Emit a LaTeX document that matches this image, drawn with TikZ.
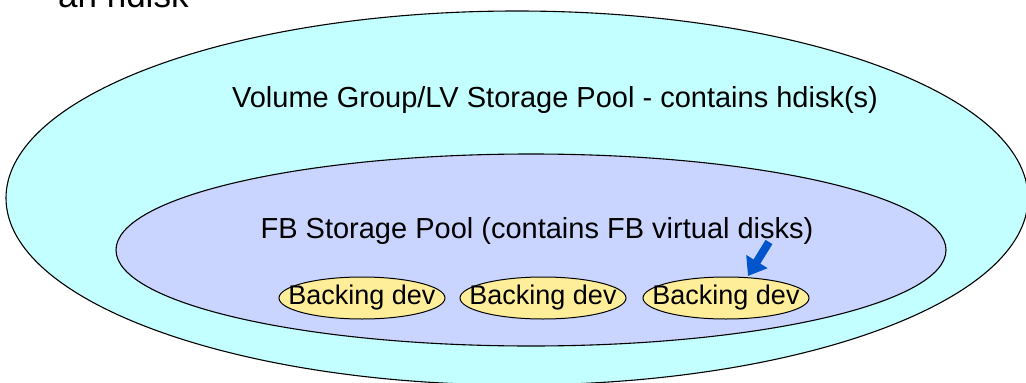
\documentclass[tikz,border=0pt]{standalone}
\usepackage{fontspec}
\setmainfont{Liberation Sans}
\usetikzlibrary{shapes.geometric,arrows.meta}
\definecolor{poolcyan}{HTML}{C4FFFF}
\definecolor{poollav}{HTML}{CAD5FF}
\definecolor{devyellow}{HTML}{FFEE99}
\definecolor{arrblue}{HTML}{0055CC}
\begin{document}
\begin{tikzpicture}[x=1pt,y=-1pt,
  pool/.style={ellipse,draw=black,line width=1.1pt,inner sep=0pt},
  devbox/.style={ellipse,draw=black,line width=1pt,fill=devyellow,inner sep=0pt,
     minimum width=166pt,minimum height=42pt,
     label={[inner sep=0pt,font=\fontsize{27}{30}\selectfont]center:Backing dev}},
  lbl/.style={anchor=base,inner sep=0pt,font=\fontsize{29}{32}\selectfont},
  bigarrow/.style={arrblue,line width=8pt,-{Triangle[width=24pt,length=17pt]}}]
\useasboundingbox (0,0) rectangle (1026,383);
\node[pool,fill=poolcyan,minimum width=1022pt,minimum height=374pt] (outer) at (517,198) {};
\node[pool,fill=poollav,minimum width=830pt,minimum height=192pt] (inner) at (531,250) {};
\node[devbox] (bd1) at (362,298) {};
\node[devbox] (bd2) at (543,298) {};
\node[devbox] (bd3) at (726,298) {};
\node[lbl] (vglabel) at (555,107) {Volume Group/LV Storage Pool - contains hdisk(s)};
\node[lbl] (fblabel) at (537,238) {FB Storage Pool (contains FB virtual disks)};
\node[anchor=base west,inner sep=0pt,font=\fontsize{35}{38}\selectfont] (hdisk) at (58,7) {an hdisk};
\coordinate (arrtail) at (769,242);
\coordinate (arrtip) at (748,276);
\draw[bigarrow] (arrtail) -- (arrtip);
\end{tikzpicture}
\end{document}
